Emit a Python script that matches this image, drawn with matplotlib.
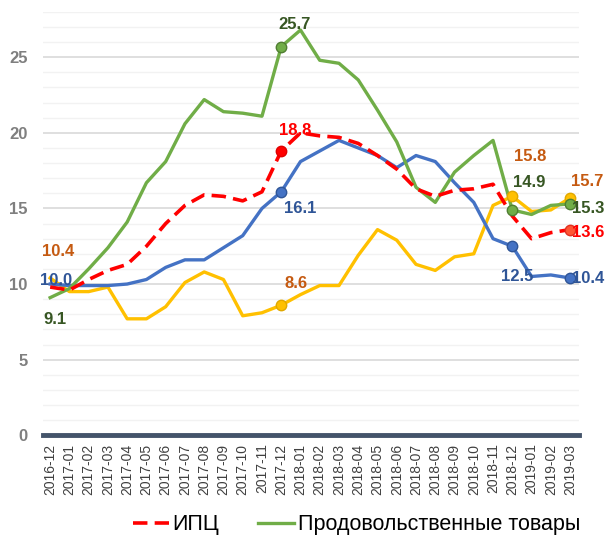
import matplotlib
matplotlib.use("Agg")
import matplotlib.pyplot as plt
from matplotlib.ticker import MultipleLocator

plt.rcParams['font.family'] = ['Liberation Sans', 'DejaVu Sans']

months = ["2016-12", "2017-01", "2017-02", "2017-03", "2017-04", "2017-05", "2017-06",
          "2017-07", "2017-08", "2017-09", "2017-10", "2017-11", "2017-12", "2018-01",
          "2018-02", "2018-03", "2018-04", "2018-05", "2018-06", "2018-07", "2018-08",
          "2018-09", "2018-10", "2018-11", "2018-12", "2019-01", "2019-02", "2019-03"]

cpi = [9.8, 9.6, 10.3, 10.9, 11.3, 12.5, 14.0, 15.2, 15.9, 15.8, 15.5, 16.1, 18.8, 20.0,
       19.8, 19.7, 19.3, 18.5, 17.6, 16.3, 15.8, 16.2, 16.3, 16.6, 14.5, 13.0, 13.4, 13.6]
food = [9.1, 9.7, 11.0, 12.4, 14.1, 16.7, 18.1, 20.6, 22.2, 21.4, 21.3, 21.1, 25.7, 26.8,
        24.8, 24.6, 23.5, 21.5, 19.4, 16.4, 15.4, 17.4, 18.5, 19.5, 14.9, 14.6, 15.2, 15.3]
nonfood = [10.0, 9.9, 9.9, 9.9, 10.0, 10.3, 11.1, 11.6, 11.6, 12.4, 13.2, 15.0, 16.1, 18.1,
           18.8, 19.5, 19.0, 18.5, 17.7, 18.5, 18.1, 16.7, 15.4, 13.0, 12.5, 10.5, 10.6, 10.4]
services = [10.4, 9.5, 9.5, 9.8, 7.7, 7.7, 8.5, 10.1, 10.8, 10.3, 7.9, 8.1, 8.6, 9.3,
            9.9, 9.9, 11.9, 13.6, 12.9, 11.3, 10.9, 11.8, 12.0, 15.2, 15.8, 14.8, 14.9, 15.7]

fig = plt.figure(figsize=(6.06, 5.40), dpi=100)
ax = fig.add_axes([0.071, 0.194, 0.884, 0.784])

x = list(range(len(months)))
c_red = "#FF0000"
c_green = "#70AD47"
c_blue = "#4472C4"
c_yellow = "#FFC000"

ax.plot(x, services, color=c_yellow, lw=2.4, zorder=3)
ax.plot(x, nonfood, color=c_blue, lw=2.4, zorder=4)
ax.plot(x, food, color=c_green, lw=2.4, zorder=5, label="Продовольственные товары")
ax.plot(x, cpi, color=c_red, lw=2.6, ls=(0, (4, 2)), zorder=6, label="ИПЦ")

ms = 7.5
mk = dict(marker='o', ls='none', ms=ms, zorder=7)
ax.plot([12, 24, 27], [services[i] for i in (12, 24, 27)], color=c_yellow, mec="#E0A800", **mk)
ax.plot([12, 24, 27], [nonfood[i] for i in (12, 24, 27)], color=c_blue, mec="#2F5597", **mk)
ax.plot([12, 24, 27], [food[i] for i in (12, 24, 27)], color=c_green, mec="#507E32", **mk)
ax.plot([12], [cpi[12]], color="#FF0000", mec="#E00000", **mk)
ax.plot([27], [cpi[27]], color="#FF5533", mec="#E03020", **mk)

lab_g = "#375623"
lab_r = "#FF0000"
lab_b = "#2F5597"
lab_y = "#C55A11"
fs = 12


def lab(i, v, col, dx, dy, ha="center", va="center"):
    ax.annotate(f"{v:.1f}", (i, v), xytext=(dx, dy), textcoords="offset pixels",
                color=col, fontsize=fs, fontweight="bold", ha=ha, va=va, zorder=8,
                annotation_clip=False)


# 2016-12
lab(0, services[0], lab_y, 8, 26)
lab(0, nonfood[0], lab_b, 6, 4)
lab(0, food[0], lab_g, 5, -22)
# 2017-12
lab(12, food[12], lab_g, 13, 22)
lab(12, cpi[12], lab_r, 14, 20)
lab(12, nonfood[12], lab_b, 3, -17, ha="left")
lab(12, services[12], lab_y, 3, 22, ha="left")
# 2018-12
lab(24, services[24], lab_y, 18, 40)
lab(24, food[24], lab_g, 17, 27)
lab(24, nonfood[24], lab_b, 5, -30)
# 2019-03
lab(27, services[27], lab_y, 17, 16)
lab(27, food[27], lab_g, 2, -5, ha="left")
lab(27, cpi[27], lab_r, 2, -3, ha="left")
lab(27, nonfood[27], lab_b, 2, -1, ha="left")

ax.set_xlim(-0.37, 27.45)
ax.set_ylim(0, 28)
ax.yaxis.set_major_locator(MultipleLocator(5))
ax.yaxis.set_minor_locator(MultipleLocator(1))
ax.grid(which="major", axis="y", color="#D9D9D9", lw=1.2, zorder=0)
ax.grid(which="minor", axis="y", color="#F2F2F2", lw=1.0, zorder=0)
ax.set_axisbelow(True)
ax.set_yticks([0, 5, 10, 15, 20, 25])
ax.set_yticklabels(["0", "5", "10", "15", "20", "25"],
                   fontsize=12, fontweight="bold", color="#7F7F7F")
ax.tick_params(axis="y", which="both", length=0, pad=11)
ax.tick_params(axis="x", length=0, pad=6)
ax.set_xticks(x)
ax.set_xticklabels(months, rotation=90, fontsize=10, color="#404040")

for s in ["top", "right", "left"]:
    ax.spines[s].set_visible(False)
ax.spines["bottom"].set_color("#44546A")
ax.spines["bottom"].set_linewidth(3.5)
ax.spines["bottom"].set_zorder(2)

handles, labels = ax.get_legend_handles_labels()
order = [1, 0]
leg = fig.legend([handles[k] for k in order], [labels[k] for k in order],
                 loc="center", bbox_to_anchor=(0.588, 0.028), ncol=2, frameon=False,
                 fontsize=15.5, handlelength=1.7, columnspacing=1.8, handletextpad=0.15,
                 borderpad=0.1)
for t in leg.get_texts():
    t.set_color("black")

fig.savefig("out.png", dpi=100)
